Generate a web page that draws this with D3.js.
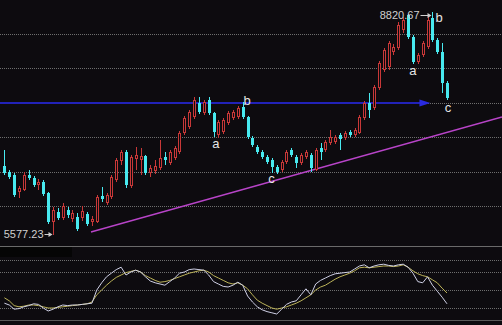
<!DOCTYPE html>
<html>
<head>
<meta charset="utf-8">
<script src="https://cdn.jsdelivr.net/npm/d3@7"></script>
<style>
  body { margin: 0; background: #0d0b0f; }
  svg { display: block; }
</style>
</head>
<body>
<div id="kline"></div>
<script>

// Set dimensions for the whole picture
const width = 502;
const height = 325;
const bg = "#0d0b0f";

// Candle data, one entry per trading day
const openP = [6582, 6495, 6451, 6204, 6233, 6451, 6407, 6306, 6349, 6189,
  5768, 5914, 5826, 5943, 5812, 5841, 5826, 5884, 5768, 5768,
  6146, 6044, 6131, 6378, 6654, 6785, 6291, 6683, 6669, 6727,
  6480, 6509, 6553, 6713, 6625, 6698, 6785, 7061, 7149, 7294,
  7497, 7352, 7541, 7352, 7032, 7076, 7207, 7279, 7294, 7439,
  7294, 6989, 6858, 6785, 6713, 6669, 6567, 6524, 6640, 6814,
  6713, 6625, 6713, 6742, 6524, 6843, 6814, 6916, 6931, 7032,
  6989, 7076, 7032, 7061, 7279, 7497, 7425, 7715, 7977, 8021,
  8238, 8297, 8558, 8776, 8456, 8093, 8195, 8311, 8732, 8413,
  8238, 7788];
const closeP = [6480, 6422, 6160, 6262, 6451, 6407, 6306, 6349, 6175, 5768,
  5943, 5826, 6000, 5870, 5899, 5666, 5928, 5739, 5812, 6131,
  6102, 6160, 6422, 6669, 6785, 6306, 6713, 6742, 6727, 6480,
  6553, 6582, 6698, 6669, 6785, 6843, 7061, 7279, 7367, 7541,
  7367, 7512, 7352, 7076, 7221, 7250, 7352, 7367, 7425, 7294,
  7003, 6887, 6785, 6713, 6640, 6567, 6495, 6640, 6785, 6742,
  6625, 6742, 6785, 6553, 6814, 6785, 6931, 7003, 7003, 6974,
  7061, 7032, 7105, 7294, 7497, 7396, 7730, 8079, 8268, 8369,
  8311, 8631, 8703, 8456, 8093, 8195, 8369, 8703, 8413, 8238,
  7788, 7570];
const highP = [6814, 6524, 6480, 6291, 6495, 6524, 6436, 6393, 6378, 6204,
  5986, 5972, 6044, 5986, 5943, 5899, 6000, 5914, 5855, 6160,
  6277, 6189, 6451, 6698, 6814, 6814, 6742, 6858, 6843, 6742,
  6596, 6669, 6960, 6785, 6814, 6872, 7090, 7308, 7396, 7585,
  7585, 7541, 7585, 7367, 7250, 7279, 7381, 7396, 7454, 7512,
  7308, 7018, 6887, 6814, 6742, 6698, 6596, 6669, 6814, 6843,
  6742, 6771, 6814, 6771, 6843, 6916, 6960, 7105, 7032, 7061,
  7090, 7105, 7134, 7323, 7526, 7643, 7759, 8108, 8297, 8398,
  8355, 8674, 8747, 8790, 8485, 8224, 8398, 8776, 8820.67, 8442,
  8369, 7817];
const lowP = [6451, 6393, 6131, 6117, 6218, 6378, 6277, 6233, 6146, 5739,
  5577.23, 5797, 5797, 5826, 5768, 5637, 5783, 5710, 5710, 5754,
  6059, 6015, 6102, 6349, 6596, 6262, 6262, 6524, 6451, 6451,
  6422, 6465, 6524, 6596, 6596, 6669, 6756, 7032, 7119, 7265,
  7337, 7323, 7323, 7003, 6989, 7047, 7178, 7250, 7265, 7265,
  6974, 6858, 6756, 6683, 6611, 6480, 6465, 6495, 6611, 6713,
  6553, 6596, 6683, 6495, 6509, 6669, 6785, 6887, 6901, 6814,
  6960, 7003, 7003, 7047, 7250, 7279, 7396, 7686, 7948, 7977,
  8195, 8268, 8515, 8427, 8064, 8064, 8166, 8282, 8384, 8209,
  7643, 7541];

// Oscillator (lower panel), white and yellow lines
const kLine = [28, 25, 18, 19, 22, 24, 27, 26, 20, 15,
  18, 22, 25, 24, 25, 25, 26, 27, 28, 50,
  62, 72, 78, 84, 88, 75, 80, 83, 80, 72,
  65, 62, 60, 58, 64, 70, 78, 80, 84, 85,
  84, 83, 75, 64, 60, 56, 55, 58, 63, 58,
  40, 30, 22, 17, 14, 12, 10, 18, 26, 30,
  32, 42, 52, 42, 60, 66, 70, 74, 77, 78,
  79, 80, 85, 90, 92, 87, 90, 92, 93, 91,
  90, 92, 93, 88, 78, 64, 62, 72, 58, 48,
  38, 27];
const dLine = [37, 32, 24, 22, 23, 25, 25, 24, 22, 20,
  20, 21, 22, 23, 24, 25, 26, 27, 30, 42,
  50, 58, 65, 71, 75, 79, 81, 83, 80, 74,
  70, 66, 63, 64, 66, 69, 72, 75, 78, 80,
  82, 83, 80, 74, 70, 66, 62, 60, 62, 58,
  52, 42, 33, 28, 24, 20, 18, 20, 22, 25,
  28, 32, 37, 42, 50, 55, 58, 63, 68, 72,
  75, 78, 82, 87, 88, 87, 88, 89, 90, 90,
  89, 90, 92, 88, 82, 77, 74, 72, 67, 62,
  53, 45];

// Grid levels
const priceTicks = [6000, 6500, 7000, 7500, 8000, 8500];
const oscTicks = [20, 50, 80, 100];

// Wave labels (day index, price where the label sits)
const waveText = ["a", "b", "c", "a", "b", "c"];
const waveIndex = [43.5, 49.9, 54.9, 84, 89.4, 91.2];
const wavePrice = [6916, 7534, 6400, 7977, 8747, 7439];

// Support trend line and the horizontal level
const trendIndex = [17.8, 102.3];
const trendPrice = [5623, 7294];
const levelPrice = 7500;
const levelEndIndex = 87.6;

// Extreme markers
const maxIndex = 88;
const minIndex = 10;

// Adds the svg
const svg = d3.select("#kline")
  .append("svg")
  .attr("width", width)
  .attr("height", height)
  .attr("viewBox", [0, 0, width, height]);

svg.append("rect")
  .attr("width", width)
  .attr("height", height)
  .attr("fill", bg);

/*
  Scales
*/
const x = d3.scaleLinear().domain([0, 91]).range([4.4, 447]);
const y = d3.scaleLinear().domain([5500, 9000]).range([240.5, -0.4]);
const yOsc = d3.scaleLinear().domain([0, 100]).range([320, 260]);

// snaps to a pixel centre
const px = v => Math.round(v) + 0.5;

/*
  Grid
*/
svg.selectAll(".grid")
  .data(priceTicks)
  .enter()
  .append("line")
    .attr("class", "grid")
    .attr("x1", 0)
    .attr("x2", width)
    .attr("y1", d => px(y(d)))
    .attr("y2", d => px(y(d)))
    .attr("stroke", "#6e6e6e")
    .attr("stroke-dasharray", "1,1");

// lower panel frame
const panelTop = 247;
svg.append("line")
  .attr("x1", 0).attr("x2", width)
  .attr("y1", panelTop - 0.5).attr("y2", panelTop - 0.5)
  .attr("stroke", "#6a6a6a");

svg.append("rect")
  .attr("x", 0).attr("y", panelTop)
  .attr("width", 72).attr("height", 10)
  .attr("fill", "#050505");

svg.selectAll(".oscgrid")
  .data(oscTicks)
  .enter()
  .append("line")
    .attr("class", "oscgrid")
    .attr("x1", 0)
    .attr("x2", width)
    .attr("y1", d => px(yOsc(d)))
    .attr("y2", d => px(yOsc(d)))
    .attr("stroke", "#6e6e6e")
    .attr("stroke-dasharray", "1,1");

svg.append("line")
  .attr("x1", 0).attr("x2", width)
  .attr("y1", px(yOsc(0))).attr("y2", px(yOsc(0)))
  .attr("stroke", "#5a5a5a");

/*
  Horizontal level (blue) with arrow
*/
const levelY = Math.round(y(levelPrice));
svg.append("line")
  .attr("x1", 0)
  .attr("x2", x(levelEndIndex) - 6)
  .attr("y1", levelY)
  .attr("y2", levelY)
  .attr("stroke", "#2222b8")
  .attr("stroke-width", 2);

svg.append("path")
  .attr("d", `M${x(levelEndIndex)},${levelY} l-11,-3.5 l0,7 z`)
  .attr("fill", "#2a2ae0");

/*
  Trend line (magenta)
*/
svg.append("line")
  .attr("x1", x(trendIndex[0]))
  .attr("y1", y(trendPrice[0]))
  .attr("x2", x(trendIndex[1]))
  .attr("y2", y(trendPrice[1]))
  .attr("stroke", "#b844c8")
  .attr("stroke-width", 1.4);

/*
  Candles
*/
const candles = openP.map((o, i) => ({
  i: i, o: o, h: highP[i], l: lowP[i], c: closeP[i], up: closeP[i] >= o
}));

const up = "#c83838";
const down = "#48eaf0";

// wicks
svg.selectAll(".wick")
  .data(candles)
  .enter()
  .append("line")
    .attr("class", "wick")
    .attr("x1", d => px(x(d.i)))
    .attr("x2", d => px(x(d.i)))
    .attr("y1", d => Math.round(y(d.h)))
    .attr("y2", d => Math.round(y(d.l)))
    .attr("stroke", d => d.up ? up : down);

// bodies
svg.selectAll(".body")
  .data(candles)
  .enter()
  .append("rect")
    .attr("class", "body")
    .each(function(d) {
      const top = Math.round(y(Math.max(d.o, d.c)));
      const bot = Math.round(y(Math.min(d.o, d.c)));
      const cx = px(x(d.i));
      const r = d3.select(this);
      if (d.up) {
        r.attr("x", cx - 1)
         .attr("y", top + 0.5)
         .attr("width", 2)
         .attr("height", Math.max(0, bot - top - 1))
         .attr("fill", bg)
         .attr("stroke", up);
      } else {
        r.attr("x", cx - 1.5)
         .attr("y", top)
         .attr("width", 3)
         .attr("height", Math.max(1, bot - top))
         .attr("fill", down);
      }
    });

/*
  Oscillator lines
*/
const oscLine = d3.line()
  .x((d, i) => x(i))
  .y(d => yOsc(d));

svg.append("path")
  .datum(dLine)
  .attr("d", oscLine)
  .attr("fill", "none")
  .attr("stroke", "#bdb45a")
  .attr("stroke-width", 1);

svg.append("path")
  .datum(kLine)
  .attr("d", oscLine)
  .attr("fill", "none")
  .attr("stroke", "#cfd0e6")
  .attr("stroke-width", 1);

/*
  Labels
*/
svg.selectAll(".wave")
  .data(waveText)
  .enter()
  .append("text")
    .attr("class", "wave")
    .attr("x", (d, i) => x(waveIndex[i]))
    .attr("y", (d, i) => y(wavePrice[i]))
    .attr("text-anchor", "middle")
    .attr("dominant-baseline", "central")
    .attr("font-family", "Liberation Sans, Arial, sans-serif")
    .attr("font-size", "13px")
    .attr("fill", "#e6e6e6")
    .text(d => d);

// extreme value markers with small arrows
function marker(idx, value, yv, gap) {
  const cx = px(x(idx));
  const ty = Math.round(y(yv));
  svg.append("text")
    .attr("x", cx - gap)
    .attr("y", ty)
    .attr("text-anchor", "end")
    .attr("dominant-baseline", "central")
    .attr("font-family", "Liberation Sans, Arial, sans-serif")
    .attr("font-size", "11px")
    .attr("fill", "#cfcfcf")
    .text(value.toFixed(2));
  svg.append("line")
    .attr("x1", cx - gap + 1).attr("x2", cx - 3)
    .attr("y1", ty + 0.5).attr("y2", ty + 0.5)
    .attr("stroke", "#cfcfcf");
  svg.append("path")
    .attr("d", `M${cx - 1},${ty + 0.5} l-4,-2.5 l0,5 z`)
    .attr("fill", "#cfcfcf");
}

marker(maxIndex, highP[maxIndex], highP[maxIndex] - 40, 13);
marker(minIndex, lowP[minIndex], lowP[minIndex] + 15, 10);

</script>
</body>
</html>
